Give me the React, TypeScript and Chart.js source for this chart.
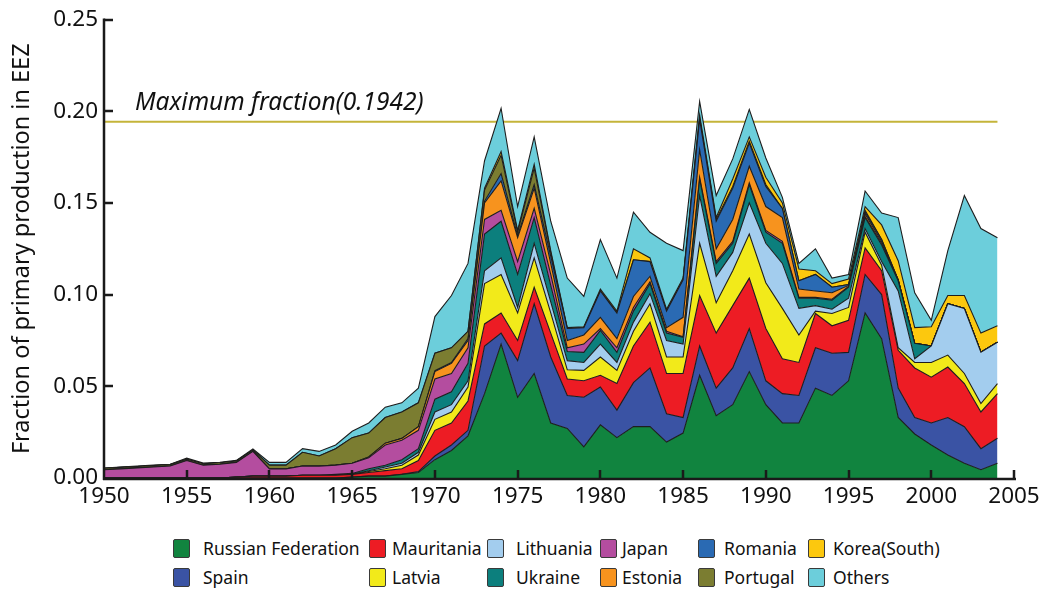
import React, { useEffect, useRef } from "react";
import { Chart, registerables } from "chart.js";

Chart.register(...registerables);

const YEARS = [
  1950, 1951, 1952, 1953, 1954, 1955, 1956, 1957, 1958, 1959,
  1960, 1961, 1962, 1963, 1964, 1965, 1966, 1967, 1968, 1969,
  1970, 1971, 1972, 1973, 1974, 1975, 1976, 1977, 1978, 1979,
  1980, 1981, 1982, 1983, 1984, 1985, 1986, 1987, 1988, 1989,
  1990, 1991, 1992, 1993, 1994, 1995, 1996, 1997, 1998, 1999,
  2000, 2001, 2002, 2003, 2004,
];

const X_MIN = 1950;
const X_MAX = 2005;
const X_STEP = 5;
const Y_MIN = 0;
const Y_MAX = 0.25;
const Y_STEP = 0.05;

const MAX_FRACTION = 0.1942;
const MAX_LABEL = "Maximum fraction(0.1942)";
const Y_TITLE = "Fraction of primary production in EEZ";

const russianFederation = [
  0, 0, 0, 0, 0, 0, 0, 0, 0, 0,
  0, 0, 0, 0, 0, 0.0005, 0.001, 0.001, 0.002, 0.003,
  0.010, 0.015, 0.023, 0.046, 0.073, 0.044, 0.057, 0.030, 0.027, 0.017,
  0.029, 0.022, 0.028, 0.028, 0.0196, 0.0245, 0.056, 0.034, 0.040, 0.058,
  0.040, 0.030, 0.030, 0.049, 0.045, 0.053, 0.090, 0.076, 0.033, 0.024,
  0.018, 0.0125, 0.008, 0.0045, 0.008,
];
const spain = [
  0, 0, 0, 0, 0, 0, 0, 0, 0, 0,
  0, 0, 0, 0, 0, 0, 0, 0, 0, 0.0005,
  0.002, 0.003, 0.003, 0.026, 0.006, 0.020, 0.038, 0.036, 0.018, 0.027,
  0.0206, 0.015, 0.024, 0.032, 0.0154, 0.0085, 0.016, 0.015, 0.020, 0.0235,
  0.013, 0.016, 0.015, 0.022, 0.023, 0.0155, 0.021, 0.024, 0.016, 0.009,
  0.012, 0.0205, 0.020, 0.0115, 0.0137,
];
const mauritania = [
  0, 0, 0, 0, 0, 0, 0, 0, 0.0005, 0.001,
  0.001, 0.001, 0.0015, 0.0015, 0.0015, 0.0015, 0.002, 0.003, 0.003, 0.006,
  0.014, 0.012, 0.016, 0.012, 0.011, 0.011, 0.009, 0.013, 0.009, 0.009,
  0.0064, 0.0145, 0.020, 0.025, 0.022, 0.024, 0.0275, 0.030, 0.034, 0.0275,
  0.0285, 0.019, 0.018, 0.0187, 0.015, 0.0175, 0.0145, 0.013, 0.0206, 0.027,
  0.025, 0.0275, 0.0235, 0.020, 0.0243,
];
const latvia = [
  0, 0, 0, 0, 0, 0, 0, 0, 0, 0,
  0, 0, 0, 0, 0, 0, 0.0005, 0.001, 0.002, 0.003,
  0.006, 0.006, 0.0076, 0.022, 0.021, 0.015, 0.016, 0.011, 0.005, 0.0057,
  0.010, 0.0072, 0.008, 0.010, 0.009, 0.009, 0.0285, 0.0165, 0.019, 0.024,
  0.025, 0.0275, 0.015, 0.0013, 0.0067, 0.007, 0.0085, 0.003, 0.0014, 0.003,
  0.008, 0.0065, 0.0055, 0.0046, 0.0055,
];
const lithuania = [
  0, 0, 0, 0, 0, 0, 0, 0, 0, 0,
  0, 0, 0, 0, 0, 0, 0.0005, 0.001, 0.001, 0.0015,
  0.004, 0.004, 0.0034, 0.007, 0.009, 0.003, 0.008, 0.006, 0.005, 0.0043,
  0.007, 0.0043, 0.005, 0.0055, 0.009, 0.007, 0.026, 0.0145, 0.010, 0.017,
  0.0215, 0.0245, 0.0145, 0.003, 0.0023, 0.005, 0.002, 0.002, 0.031, 0.002,
  0.009, 0.028, 0.0354, 0.028, 0.0225,
];
const ukraine = [
  0, 0, 0, 0, 0, 0, 0, 0, 0, 0,
  0, 0, 0, 0, 0.0005, 0.0005, 0.001, 0.001, 0.002, 0.002,
  0.007, 0.007, 0.0095, 0.020, 0.020, 0.018, 0.014, 0.009, 0.005, 0.0055,
  0.0075, 0.0055, 0.006, 0.0055, 0.004, 0.0037, 0.009, 0.007, 0.005, 0.010,
  0.006, 0.011, 0.0055, 0.004, 0.005, 0.006, 0.006, 0.009, 0.0055, 0.0084,
  0, 0, 0, 0, 0,
];
const japan = [
  0.0045, 0.005, 0.0055, 0.006, 0.0065, 0.0095, 0.007, 0.0075, 0.008, 0.0135,
  0.004, 0.004, 0.005, 0.005, 0.005, 0.0055, 0.006, 0.011, 0.0106, 0.010,
  0.011, 0.010, 0.0085, 0.008, 0.006, 0.007, 0.005, 0.006, 0.002, 0.0045,
  0.001, 0.0025, 0.002, 0.001, 0.001, 0.0003, 0.001, 0.001, 0.001, 0.001,
  0.001, 0.001, 0.0005, 0.0005, 0.0005, 0.0005, 0.0005, 0.001, 0.0005, 0,
  0, 0, 0, 0, 0,
];
const estonia = [
  0, 0, 0, 0, 0, 0, 0, 0, 0, 0,
  0, 0, 0, 0, 0, 0, 0.0005, 0.001, 0.001, 0.002,
  0.004, 0.0055, 0.004, 0.009, 0.016, 0.013, 0.011, 0.006, 0.004, 0.005,
  0.0061, 0.005, 0.006, 0.003, 0.002, 0.0106, 0.015, 0.007, 0.012, 0.009,
  0.013, 0.013, 0.0045, 0.0035, 0.0035, 0.0005, 0.0015, 0.001, 0, 0,
  0, 0, 0, 0, 0,
];
const romania = [
  0, 0, 0, 0, 0, 0, 0, 0, 0, 0,
  0, 0, 0, 0, 0, 0, 0, 0, 0, 0,
  0.0005, 0.0005, 0.001, 0.001, 0.004, 0.001, 0.002, 0.004, 0.0065, 0.004,
  0.0144, 0.014, 0.020, 0.008, 0.009, 0.0204, 0.0165, 0.015, 0.017, 0.0126,
  0.011, 0.005, 0.0045, 0.009, 0.003, 0.0005, 0.001, 0.001, 0, 0,
  0, 0, 0, 0, 0,
];
const portugal = [
  0.0008, 0.0008, 0.0008, 0.0008, 0.0008, 0.0008, 0.0008, 0.0008, 0.0008, 0.0008,
  0.002, 0.002, 0.0075, 0.0055, 0.009, 0.014, 0.013, 0.014, 0.0144, 0.013,
  0.0095, 0.008, 0.004, 0.006, 0.010, 0.002, 0.009, 0.002, 0, 0,
  0, 0, 0, 0, 0, 0, 0.001, 0.001, 0.001, 0.001,
  0.001, 0, 0, 0, 0, 0, 0.001, 0, 0, 0,
  0, 0, 0, 0, 0,
];
const koreaSouth = [
  0, 0, 0, 0, 0, 0, 0, 0, 0, 0,
  0, 0, 0, 0, 0, 0, 0, 0, 0, 0,
  0, 0, 0, 0.001, 0.002, 0.001, 0.002, 0.001, 0.0005, 0.0005,
  0.001, 0.001, 0.006, 0.002, 0.001, 0.001, 0.0015, 0.001, 0.004, 0.0024,
  0.004, 0.003, 0.0065, 0.002, 0.002, 0.003, 0.002, 0.008, 0.0105, 0.0086,
  0.0105, 0.0045, 0.0071, 0.0104, 0.009,
];
const others = [
  0.0001, 0.0002, 0.0002, 0.0002, 0.0002, 0.0005, 0.0003, 0.0003, 0.0003, 0.0005,
  0.0015, 0.0015, 0.002, 0.0025, 0.002, 0.0035, 0.0055, 0.0056, 0.005, 0.008,
  0.020, 0.0285, 0.037, 0.015, 0.0236, 0.013, 0.015, 0.016, 0.027, 0.0165,
  0.027, 0.018, 0.020, 0.014, 0.036, 0.015, 0.0074, 0.012, 0.011, 0.015,
  0.0105, 0.003, 0.003, 0.012, 0.003, 0.0025, 0.0085, 0.0065, 0.0235, 0.019,
  0.0035, 0.0245, 0.0545, 0.057, 0.048,
];

const SERIES_NAMES = [
  "Russian Federation", "Spain", "Mauritania", "Latvia", "Lithuania", "Ukraine",
  "Japan", "Estonia", "Romania", "Portugal", "Korea(South)", "Others",
];
const SERIES_VALUES = [
  russianFederation, spain, mauritania, latvia, lithuania, ukraine,
  japan, estonia, romania, portugal, koreaSouth, others,
];
const SERIES_COLORS = [
  "#11843f", "#3a53a4", "#ed1c24", "#f2ea1a", "#a3cdee", "#0c7f7d",
  "#b44d9f", "#f7931e", "#2a6ab3", "#7b7d31", "#fcc80e", "#6ccedb",
];

// legend grid: two rows, six columns
const LEGEND_ROWS = [
  ["Russian Federation", "Mauritania", "Lithuania", "Japan", "Romania", "Korea(South)"],
  ["Spain", "Latvia", "Ukraine", "Estonia", "Portugal", "Others"],
];
const LEGEND_BOX_X = [173, 369, 487, 600, 698, 808];
const LEGEND_TEXT_X = [203, 392, 516, 622, 724, 833];
const LEGEND_ROW_Y = [548, 577];

const FONT = "'Noto Sans', 'DejaVu Sans', sans-serif";
const AXIS_COLOR = "#1a1a1a";
const MAX_COLOR = "#c4b43a";

const decorPlugin = {
  id: "decor",
  beforeDatasetsDraw(chart: any) {
    const { ctx, chartArea, scales } = chart;
    const x = scales.x;
    const y = scales.y;
    const yMax = y.getPixelForValue(MAX_FRACTION);
    ctx.save();
    ctx.strokeStyle = MAX_COLOR;
    ctx.lineWidth = 2;
    ctx.beginPath();
    ctx.moveTo(x.getPixelForValue(YEARS[0]), yMax);
    ctx.lineTo(x.getPixelForValue(YEARS[YEARS.length - 1]), yMax);
    ctx.stroke();
    ctx.font = `italic 24.5px ${FONT}`;
    ctx.fillStyle = "#111";
    ctx.textBaseline = "alphabetic";
    ctx.textAlign = "left";
    ctx.fillText(MAX_LABEL, chartArea.left + 31, yMax - 12);
    ctx.restore();
  },
  afterDatasetsDraw(chart: any) {
    const { ctx, chartArea, scales } = chart;
    const x = scales.x;
    const y = scales.y;
    const left = chartArea.left;
    const bottom = chartArea.bottom;
    ctx.save();
    ctx.strokeStyle = AXIS_COLOR;
    ctx.lineWidth = 2.5;
    ctx.lineCap = "butt";
    ctx.beginPath();
    ctx.moveTo(left, y.getPixelForValue(Y_MAX) - 1);
    ctx.lineTo(left, bottom + 2);
    ctx.moveTo(left - 1, bottom + 1);
    ctx.lineTo(x.getPixelForValue(X_MAX) + 2, bottom + 1);
    ctx.stroke();
    ctx.beginPath();
    for (let v = Y_MIN + Y_STEP; v <= Y_MAX + 1e-9; v += Y_STEP) {
      const py = Math.round(y.getPixelForValue(v));
      ctx.moveTo(left, py);
      ctx.lineTo(left + 9, py);
    }
    for (let v = X_MIN + X_STEP; v <= X_MAX; v += X_STEP) {
      const px = Math.round(x.getPixelForValue(v));
      ctx.moveTo(px, bottom + 1);
      ctx.lineTo(px, bottom - 8);
    }
    ctx.stroke();
    ctx.restore();
  },
};

export default function App() {
  const ref = useRef<HTMLCanvasElement>(null);

  useEffect(() => {
    if (!ref.current) return;
    const datasets = SERIES_NAMES.map((name, i) => ({
      label: name,
      data: YEARS.map((yr, k) => ({ x: yr, y: SERIES_VALUES[i][k] })),
      backgroundColor: SERIES_COLORS[i],
      borderColor: "#1e1e1e",
      borderWidth: 1.1,
      fill: i === 0 ? "origin" : "-1",
      pointRadius: 0,
      pointHoverRadius: 0,
      tension: 0,
    }));

    const tickFont = { family: FONT, size: 22.5 };

    const chart = new Chart(ref.current, {
      type: "line",
      data: { datasets } as any,
      options: {
        responsive: false,
        animation: false,
        devicePixelRatio: 1,
        layout: { padding: { top: 17, right: 34, bottom: 12, left: 0 } },
        plugins: {
          legend: { display: false },
          tooltip: { enabled: false },
        },
        scales: {
          x: {
            type: "linear",
            min: X_MIN,
            max: X_MAX,
            grid: { display: false, drawTicks: false },
            border: { display: false },
            ticks: {
              stepSize: X_STEP,
              padding: 5,
              maxRotation: 0,
              autoSkip: false,
              color: "#111",
              font: tickFont,
              callback: (v: any) => String(v),
            },
            afterFit: (s: any) => {
              s.height = 40;
            },
          },
          y: {
            stacked: true,
            min: Y_MIN,
            max: Y_MAX,
            grid: { display: false, drawTicks: false },
            border: { display: false },
            ticks: {
              stepSize: Y_STEP,
              padding: 6,
              color: "#111",
              font: tickFont,
              callback: (v: any) => Number(v).toFixed(2),
            },
            title: {
              display: true,
              text: Y_TITLE,
              color: "#111",
              font: { family: FONT, size: 23.5 },
              padding: { top: 8, bottom: 0 },
            },
            afterFit: (s: any) => {
              s.width = 104;
            },
          },
        },
      } as any,
      plugins: [decorPlugin],
    });
    return () => chart.destroy();
  }, []);

  return (
    <div
      style={{
        position: "fixed",
        left: 0,
        top: 0,
        width: 1048,
        height: 591,
        background: "#fff",
        overflow: "hidden",
      }}
    >
      <canvas ref={ref} width={1048} height={530} style={{ display: "block" }} />
      {LEGEND_ROWS.map((row, r) =>
        row.map((name, c) => {
          const idx = SERIES_NAMES.indexOf(name);
          return (
            <React.Fragment key={name}>
              <div
                style={{
                  position: "absolute",
                  left: LEGEND_BOX_X[c],
                  top: LEGEND_ROW_Y[r] - 9,
                  width: 15,
                  height: 17,
                  background: SERIES_COLORS[idx],
                  border: "1.5px solid #3a3a3a",
                  borderRadius: 2,
                }}
              />
              <div
                style={{
                  position: "absolute",
                  left: LEGEND_TEXT_X[c],
                  top: LEGEND_ROW_Y[r] - 13,
                  height: 26,
                  lineHeight: "26px",
                  fontFamily: FONT,
                  fontSize: 17.5,
                  color: "#111",
                  whiteSpace: "nowrap",
                }}
              >
                {name}
              </div>
            </React.Fragment>
          );
        })
      )}
    </div>
  );
}
